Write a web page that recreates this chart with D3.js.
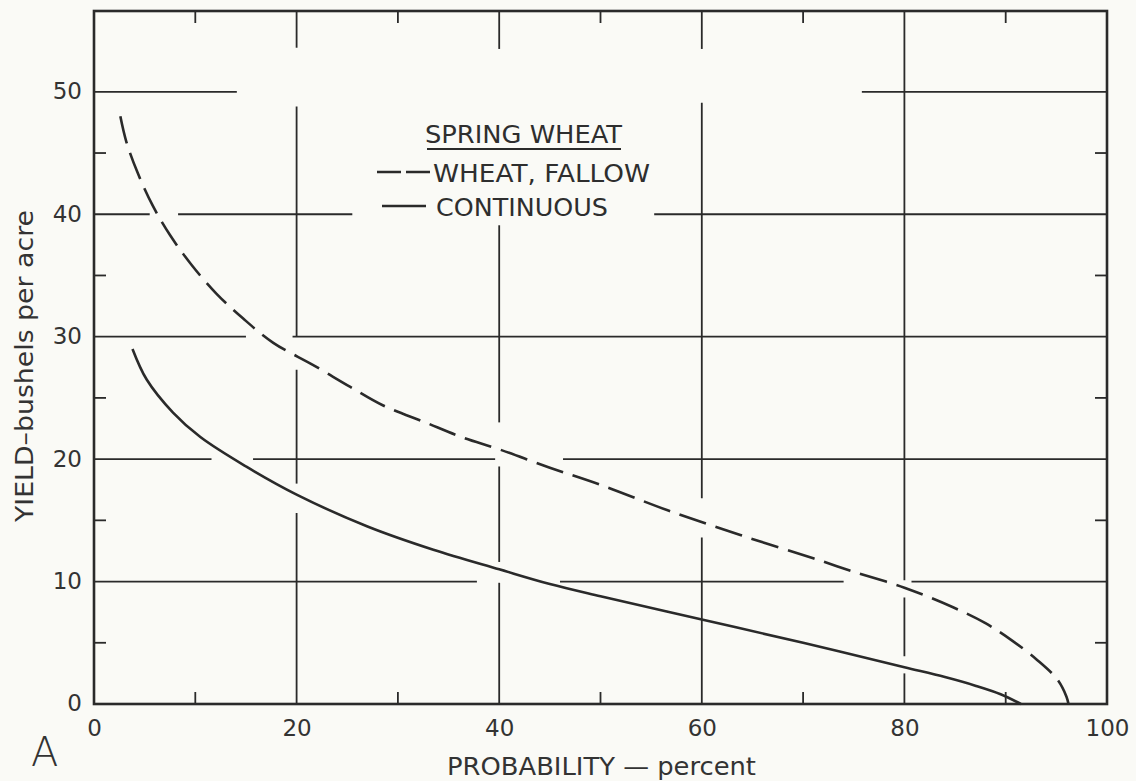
<!DOCTYPE html>
<html>
<head>
<meta charset="utf-8">
<script src="https://cdn.jsdelivr.net/npm/d3@7"></script>
<style>
  body { margin: 0; background: #fafaf6; }
  svg { display: block; }
</style>
</head>
<body>
<div id="chart"></div>
<script>
// values
const fallowProb  = [2.6, 3.2, 4.3, 5.8, 7.5, 9.6, 12.1, 14.7, 17.7, 21.6, 25.3, 28.5, 32.7, 36.3, 40, 45, 50, 56.7, 63.8, 71, 75, 80, 84.8, 88, 90.6, 93.1, 95.1, 96, 96.2];
const fallowYield = [48, 45.9, 43.4, 40.7, 38.3, 35.9, 33.5, 31.5, 29.5, 27.7, 25.9, 24.4, 23.0, 21.8, 20.8, 19.3, 17.9, 15.8, 13.8, 11.9, 10.8, 9.5, 7.9, 6.6, 5.2, 3.6, 2.0, 0.6, 0];

const contProb  = [3.8, 5.2, 7.8, 10.5, 15, 20, 27, 33.5, 40, 45, 50, 60, 70, 80, 84, 87, 89.5, 91.5];
const contYield = [29, 26.5, 23.8, 21.8, 19.4, 17.1, 14.5, 12.6, 11.0, 9.8, 8.8, 6.9, 5.0, 3.0, 2.2, 1.5, 0.8, 0];

const xTicks = [0, 20, 40, 60, 80, 100];
const yTicks = [0, 10, 20, 30, 40, 50];
const xMinor = [10, 30, 50, 70, 90];
const yMinor = [5, 15, 25, 35, 45];

const legendTitle = "SPRING WHEAT";
const seriesNames = ["WHEAT, FALLOW", "CONTINUOUS"];

// breaks in the drafted grid lines (where curves or the legend cross them)
const vGridGaps = [
  [20, [[48.8, 53.6], [27.3, 30], [15.6, 18]]],
  [40, [[39.1, 53.5], [19.4, 23], [9.9, 11.6]]],
  [60, [[49.1, 53.5], [13.6, 16.8]]],
  [80, [[8.7, 10.1], [2.5, 3.9]]]
];
const hGridGaps = [
  [10, [[37.8, 46], [74, 80.7]]],
  [20, [[11.6, 15.7], [39.6, 46.3]]],
  [30, [[15, 19.6]]],
  [40, [[5.5, 8.3], [25.5, 55.3]]],
  [50, [[14.1, 75.8]]]
];

const width = 1136, height = 781;
const margin = { top: 11, right: 29, bottom: 77, left: 94 };
const ink = "#2a2a2a";
const font = "'DejaVu Sans', sans-serif";

const svg = d3.select("#chart").append("svg")
  .attr("width", width)
  .attr("height", height)
  .style("background", "#fafaf6");

const x = d3.scaleLinear().domain([0, 100]).range([margin.left, width - margin.right]);
const y = d3.scaleLinear().domain([0, 56.6]).range([height - margin.bottom, margin.top]);

const [yMin, yMax] = y.domain();
const [xMin, xMax] = x.domain();

// split a line into the pieces between its gaps
const pieces = (lo, hi, gaps) => {
  const out = [];
  let start = lo;
  gaps.slice().sort((a, b) => a[0] - b[0]).forEach(([a, b]) => {
    if (a > start) out.push([start, a]);
    start = b;
  });
  if (start < hi) out.push([start, hi]);
  return out;
};

const grid = svg.append("g").attr("stroke", ink).attr("stroke-width", 1.8);

vGridGaps.forEach(([xv, gaps]) => {
  pieces(yMin, yMax, gaps).forEach(([a, b]) => {
    grid.append("line")
      .attr("x1", x(xv)).attr("x2", x(xv))
      .attr("y1", y(a)).attr("y2", y(b));
  });
});

hGridGaps.forEach(([yv, gaps]) => {
  pieces(xMin, xMax, gaps).forEach(([a, b]) => {
    grid.append("line")
      .attr("x1", x(a)).attr("x2", x(b))
      .attr("y1", y(yv)).attr("y2", y(yv));
  });
});

// minor ticks on all four sides
const tickLen = 12;
xMinor.forEach(v => {
  grid.append("line").attr("x1", x(v)).attr("x2", x(v)).attr("y1", y(yMax)).attr("y2", y(yMax) + tickLen);
  grid.append("line").attr("x1", x(v)).attr("x2", x(v)).attr("y1", y(yMin)).attr("y2", y(yMin) - tickLen);
});
yMinor.forEach(v => {
  grid.append("line").attr("x1", x(xMin)).attr("x2", x(xMin) + tickLen).attr("y1", y(v)).attr("y2", y(v));
  grid.append("line").attr("x1", x(xMax)).attr("x2", x(xMax) - tickLen).attr("y1", y(v)).attr("y2", y(v));
});

// frame
svg.append("rect")
  .attr("x", x(xMin)).attr("y", y(yMax))
  .attr("width", x(xMax) - x(xMin))
  .attr("height", y(yMin) - y(yMax))
  .attr("fill", "none")
  .attr("stroke", ink)
  .attr("stroke-width", 2.6);

// tick labels
const xAxis = svg.append("g")
  .attr("transform", `translate(0, ${y(yMin)})`)
  .call(d3.axisBottom(x).tickValues(xTicks).tickSize(0).tickPadding(16).tickFormat(d3.format("d")));
const yAxis = svg.append("g")
  .attr("transform", `translate(${x(xMin)}, 0)`)
  .call(d3.axisLeft(y).tickValues(yTicks).tickSize(0).tickPadding(12).tickFormat(d3.format("d")));

[xAxis, yAxis].forEach(g => {
  g.select(".domain").remove();
  g.selectAll("text")
    .attr("fill", "#333")
    .style("font-family", font)
    .style("font-size", "23px");
});
yAxis.selectAll("text").attr("dy", "0.3em");

// curves
const line = d3.line()
  .x(d => x(d[0]))
  .y(d => y(d[1]))
  .curve(d3.curveCatmullRom.alpha(0.5));

svg.append("path")
  .datum(d3.zip(fallowProb, fallowYield))
  .attr("d", line)
  .attr("fill", "none")
  .attr("stroke", ink)
  .attr("stroke-width", 2.6)
  .attr("stroke-dasharray", "28,10");

svg.append("path")
  .datum(d3.zip(contProb, contYield))
  .attr("d", line)
  .attr("fill", "none")
  .attr("stroke", ink)
  .attr("stroke-width", 2.6);

// legend
const legend = svg.append("g")
  .attr("fill", "#2e2e2e")
  .style("font-family", font)
  .style("font-size", "24px");

legend.append("text")
  .attr("x", 425).attr("y", 143)
  .attr("textLength", 197).attr("lengthAdjust", "spacingAndGlyphs")
  .text(legendTitle);
legend.append("line")
  .attr("x1", 427).attr("x2", 621).attr("y1", 149).attr("y2", 149)
  .attr("stroke", ink).attr("stroke-width", 2);

legend.append("line")
  .attr("x1", 377).attr("x2", 430).attr("y1", 172).attr("y2", 172)
  .attr("stroke", ink).attr("stroke-width", 2.6)
  .attr("stroke-dasharray", "24,5");
legend.append("text")
  .attr("x", 433).attr("y", 182)
  .attr("textLength", 217).attr("lengthAdjust", "spacingAndGlyphs")
  .text(seriesNames[0]);

legend.append("line")
  .attr("x1", 382).attr("x2", 426).attr("y1", 206).attr("y2", 206)
  .attr("stroke", ink).attr("stroke-width", 2.6);
legend.append("text")
  .attr("x", 436).attr("y", 216)
  .attr("textLength", 172).attr("lengthAdjust", "spacingAndGlyphs")
  .text(seriesNames[1]);

// axis titles
svg.append("text")
  .attr("x", 447).attr("y", 775)
  .attr("textLength", 309).attr("lengthAdjust", "spacingAndGlyphs")
  .attr("fill", "#333")
  .style("font-family", font)
  .style("font-size", "24px")
  .text("PROBABILITY — percent");

svg.append("text")
  .attr("transform", "translate(33, 522) rotate(-90)")
  .attr("textLength", 312).attr("lengthAdjust", "spacingAndGlyphs")
  .attr("fill", "#333")
  .style("font-family", font)
  .style("font-size", "25px")
  .text("YIELD–bushels per acre");

// panel letter
svg.append("text")
  .attr("x", 31).attr("y", 766)
  .attr("fill", "#333")
  .style("font-family", font)
  .style("font-weight", 200)
  .style("font-size", "40px")
  .text("A");
</script>
</body>
</html>
